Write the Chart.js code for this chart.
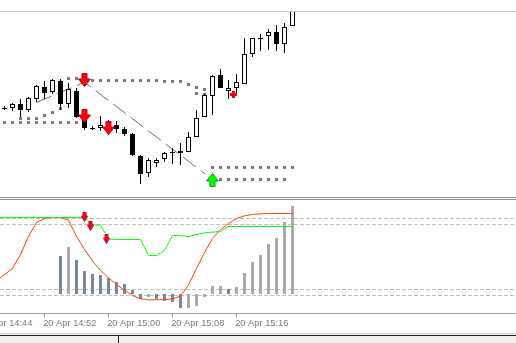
<!DOCTYPE html>
<html>
<head>
<meta charset="utf-8">
<script src="https://cdn.jsdelivr.net/npm/chart.js@4.4.1/dist/chart.umd.min.js"></script>
<style>
  html, body { margin: 0; padding: 0; background: #fff; }
  body { position: relative; width: 516px; height: 343px; overflow: hidden; }
  .box { position: absolute; left: 0; width: 516px; }
  .rule { position: absolute; left: 0; width: 516px; height: 1px; }
</style>
</head>
<body>
<div class="rule" style="top:11px;background:#c4c4c4"></div>
<div class="box" style="top:12px;height:185px"><canvas id="priceChart"></canvas></div>
<div class="rule" style="top:197px;background:#8c8c8c"></div>
<div class="rule" style="top:199px;background:#8c8c8c"></div>
<div class="box" style="top:200px;height:143px"><canvas id="oscChart"></canvas></div>
<div class="rule" style="top:313px;background:#a0a0a0"></div>
<div class="rule" style="top:333px;background:#d4d4d4"></div>
<div style="position:absolute;left:0;top:334px;width:516px;height:9px;background:#f0f0f0"></div>
<div class="rule" style="top:335px;background:#202020"></div>
<div style="position:absolute;left:118px;top:336px;width:1px;height:7px;background:#202020"></div>

<script>
// M1 bars, minutes past 14:00 on 20 Apr
const minutes = [46, 47, 48, 49, 50, 51, 52, 53, 54, 55, 56, 57, 58, 59, 60, 61, 62, 63, 64,
                 65, 66, 67, 68, 69, 70, 71, 72, 73, 74, 75, 76, 77, 78, 79, 80, 81, 82, 83];

// prices in points
const open  = [null, 92, 92, 96, 90, 101, 113, 108, 119, 96, 109, 80, 72, 72, 75, 75, 71, 66, 44,
               27, 37, 41, 48, 49, 48, 63, 83, 104, 125, 109, 112, 116, 146, 162, 164, 168, 156, 174];
const high  = [null, 94, 97, 101, 103, 115, 119, 121, 121, 117, 112, 83, 74, 84, 80, 79, 73, 67, 45,
               42, 42, 48, 52, 57, 68, 90, 106, 125, 131, 120, 126, 162, 162, 166, 171, 175, 177, 196];
const low   = [null, 90, 89, 83, 88, 98, 101, 106, 90, 92, 82, 70, 70, 69, 65, 67, 64, 44, 16,
               23, 33, 38, 36, 35, 48, 63, 83, 85, 112, 101, 107, 116, 143, 149, 150, 149, 147, 174];
const close = [null, 92, 96, 90, 102, 114, 107, 120, 96, 111, 83, 72, 72, 75, 72, 71, 66, 45, 26,
               40, 40, 47, 48, 47, 63, 82, 105, 124, 112, 112, 118, 146, 162, 162, 168, 156, 173, 194];

// dotted stop levels
const resist   = [null, null, null, null, null, null, null, null, null, 121.5, 121.5, 120.5, 119.5,
                  119.5, 119.5, 119.5, 119.5, 119.5, 119.5, 119.5, 119.5, 118.5, 118.5, 118.5, 115.5,
                  112.5, 110.5, null, null, null, null, null, null, null, null, null, null, null];
const resist2  = [null, null, null, null, null, null, null, null, null, null, null, null, null,
                  null, null, null, null, null, null, null, null, null, null, null, null,
                  106.5, 105.5, null, null, null, null, null, null, null, null, null, null, null];
const supportA = [null, 77.5, 77.5, 77.5, 77.5, 77.5, 77.5, 77.5, 77.5, 77.5, 77.5, null, null,
                  null, null, null, null, null, null, null, null, null, null, null, null, null, null,
                  32.5, 32.5, 32.5, 32.5, 32.5, 32.5, 32.5, 32.5, 32.5, 32.5, 32.5];
const supportB = [null, null, null, 81.5, 81.5, 81.5, 84.5, 87.5, 91.5, null, null, null, null,
                  null, null, null, null, null, null, null, null, null, null, null, null, null, null,
                  null, 20.5, 20.5, 20.5, 20.5, 20.5, 20.5, 20.5, 20.5, 20.5, null];

// zigzag line
const zigMinutes = [51, 57, 72.1];
const zigPrices  = [97.6, 117.7, 25.9];

// signal arrows
const sellMinutes = [57, 57, 60];
const sellPrices  = [120, 84, 72];
const buyMinutes  = [73];
const buyPrices   = [20];
const markMinutes = [75.625];
const markPrices  = [105.5];

// oscillator window
const fast = [28.4, 33.9, 39.4, 52.3, 68.8, 81.7, 85.3, 86.2, 86.2, 83.9, 68.8, 56.9, 46.3, 37.6,
              30.9, 24.8, 19.4, 14.7, 11.7, 10.7, 10.7, 11.0, 11.5, 14.2, 24.3, 39.4, 54.1, 67.0,
              75.2, 80.7, 85.3, 87.8, 89.0, 89.6, 89.9, 89.9, 89.9, 89.9];
const slow = [86.2, 86.2, 86.2, 86.2, 86.2, 86.2, 86.2, 86.2, 86.2, 86.2, 86.2, 86.2, 79.4, 79.4,
              66.5, 66.1, 66.1, 66.1, 66.1, 51.4, 51.4, 56.0, 69.7, 69.7, 68.8, 70.6, 72.2, 72.8,
              73.4, 78.0, 78.0, 78.0, 78.0, 78.0, 78.0, 78.0, 78.0, 78.0];
const hist = [null, null, null, null, null, null, null, null, 38, 47, 34, 23, 20, 19, 16, 12, 10, 4,
              -5, -3, -5, -7, -8, -14, -14, -12, -3, 8, 8, 5, 7, 21, 32, 39, 50, 56, 72, 88];
const oscSignalMinutes = [57, 57.75, 59.75];
const oscSignalValues  = [86.7, 78.44, 66.51];
const levels = [85, 80, 20, 15];

// time axis
const tickMinutes = [44, 52, 60, 68, 76];
const tickLabels  = ['20 Apr 14:44', '20 Apr 14:52', '20 Apr 15:00', '20 Apr 15:08', '20 Apr 15:16'];

const viewMin = 46.4375, viewMax = 110.9375;

function arrowImage(w, h, shaftW, shaftH, up, fill, edge) {
  const c = document.createElement('canvas');
  c.width = w; c.height = h;
  const g = c.getContext('2d');
  const l = (w - shaftW) / 2, r = l + shaftW;
  const pts = [[l, 0.5], [r, 0.5], [r, shaftH], [w - 0.5, shaftH], [w / 2, h - 0.5], [0.5, shaftH], [l, shaftH]];
  g.beginPath();
  pts.forEach(([x, y], i) => {
    const yy = up ? h - y : y;
    if (i) g.lineTo(x, yy); else g.moveTo(x, yy);
  });
  g.closePath();
  g.fillStyle = fill;
  g.fill();
  g.strokeStyle = edge;
  g.lineWidth = 1;
  g.stroke();
  return c;
}

function plusImage() {
  const c = document.createElement('canvas');
  c.width = 7; c.height = 7;
  const g = c.getContext('2d');
  g.fillStyle = '#ff0000';
  g.fillRect(2, 0, 3, 7);
  g.fillRect(0, 2, 7, 3);
  return c;
}

const bigDown = arrowImage(13, 14, 5, 6, false, '#ff0000', '#b8002c');
const bigUp = arrowImage(13, 14, 5, 6, true, '#00ff00', '#00a000');
const smallDown = arrowImage(7, 10, 3, 4, false, '#ff0000', '#c8003c');

const bars = minutes.map((m, i) => i).filter(i => open[i] !== null);
const pts = (xs, ys) => xs.map((x, i) => ({ x: x, y: ys[i] }));

function dots(values) {
  return {
    type: 'line', data: pts(minutes, values), showLine: false,
    pointStyle: 'rect', pointRadius: 2.13, pointBorderWidth: 0,
    pointBackgroundColor: '#857a6e', order: 4
  };
}

const common = {
  responsive: true,
  maintainAspectRatio: false,
  animation: false,
  events: [],
  plugins: { legend: { display: false }, tooltip: { enabled: false } }
};

new Chart(document.getElementById('priceChart'), {
  type: 'bar',
  data: {
    datasets: [
      { type: 'line', data: pts(sellMinutes, sellPrices), showLine: false, pointStyle: bigDown, pointRadius: 6, order: 0 },
      { type: 'line', data: pts(buyMinutes, buyPrices), showLine: false, pointStyle: bigUp, pointRadius: 6, order: 0 },
      { type: 'line', data: pts(markMinutes, markPrices), showLine: false, pointStyle: plusImage(), pointRadius: 4, order: 0 },
      {
        data: bars.map(i => ({ x: minutes[i], y: open[i] === close[i] ? [close[i] - 1, close[i]] : [open[i], close[i]] })),
        backgroundColor: bars.map(i => close[i] > open[i] ? '#ffffff' : '#000000'),
        borderColor: '#000000', borderWidth: 1, borderSkipped: false,
        barThickness: 5, grouped: false, inflateAmount: 0, order: 1
      },
      {
        data: bars.map(i => ({ x: minutes[i], y: [low[i], high[i]] })),
        backgroundColor: '#000000', borderWidth: 0,
        barThickness: 1, grouped: false, inflateAmount: 0, order: 2
      },
      {
        type: 'line', data: pts(zigMinutes, zigPrices), borderColor: '#707070', borderWidth: 1,
        borderDash: [16, 6], pointRadius: 0, order: 3
      },
      dots(resist), dots(resist2), dots(supportA), dots(supportB)
    ]
  },
  options: Object.assign({}, common, {
    layout: { padding: 0, autoPadding: false },
    scales: {
      x: { type: 'linear', min: viewMin, max: viewMax, offset: false, display: false },
      y: { type: 'linear', min: 3, max: 188, display: false }
    }
  })
});

const oscFrame = {
  id: 'oscFrame',
  beforeDatasetsDraw(chart) {
    const { ctx, chartArea: a, scales } = chart;
    ctx.save();
    ctx.strokeStyle = '#c0c0c0';
    ctx.lineWidth = 1;
    ctx.setLineDash([4, 2]);
    levels.forEach(v => {
      const y = Math.floor(scales.y.getPixelForValue(v)) + 0.5;
      ctx.beginPath();
      ctx.moveTo(a.left, y);
      ctx.lineTo(a.right, y);
      ctx.stroke();
    });
    ctx.restore();
  },
  afterDraw(chart) {
    const { ctx, chartArea: a, scales } = chart;
    ctx.save();
    ctx.strokeStyle = '#909090';
    ctx.fillStyle = '#737a85';
    ctx.lineWidth = 1;
    ctx.font = '9.3px "Liberation Sans", Arial, sans-serif';
    ctx.textAlign = 'left';
    ctx.textBaseline = 'alphabetic';
    tickMinutes.forEach((m, i) => {
      const x = Math.floor(scales.x.getPixelForValue(m)) + 0.5;
      ctx.beginPath();
      ctx.moveTo(x, a.bottom);
      ctx.lineTo(x, a.bottom + 4);
      ctx.stroke();
      ctx.fillText(tickLabels[i], x - 1.3, a.bottom + 13);
    });
    ctx.restore();
  }
};

const histIdx = minutes.map((m, i) => i).filter(i => hist[i] !== null);

new Chart(document.getElementById('oscChart'), {
  type: 'bar',
  data: {
    datasets: [
      { type: 'line', data: pts(oscSignalMinutes, oscSignalValues), showLine: false, pointStyle: smallDown, pointRadius: 5, order: 0 },
      { type: 'line', data: pts(minutes, slow), borderColor: '#00ff00', borderWidth: 1, pointRadius: 0, order: 1 },
      { type: 'line', data: pts(minutes, fast), borderColor: '#ff4500', borderWidth: 1, pointRadius: 0, order: 1 },
      {
        yAxisID: 'h',
        data: histIdx.map(i => ({ x: minutes[i], y: hist[i] })),
        backgroundColor: histIdx.map((i, k) => k > 0 && hist[i] >= hist[histIdx[k - 1]] ? '#a9a9a9' : '#778899'),
        borderWidth: 0, barThickness: 3, grouped: false, inflateAmount: 0, order: 2
      }
    ]
  },
  options: Object.assign({}, common, {
    layout: { padding: { left: 0, right: 0, top: 0, bottom: 30 }, autoPadding: false },
    scales: {
      x: { type: 'linear', min: viewMin, max: viewMax, offset: false, display: false },
      y: { type: 'linear', min: -1.376, max: 102.294, display: false },
      h: { type: 'linear', min: -19, max: 94, display: false }
    }
  }),
  plugins: [oscFrame]
});
</script>
</body>
</html>
